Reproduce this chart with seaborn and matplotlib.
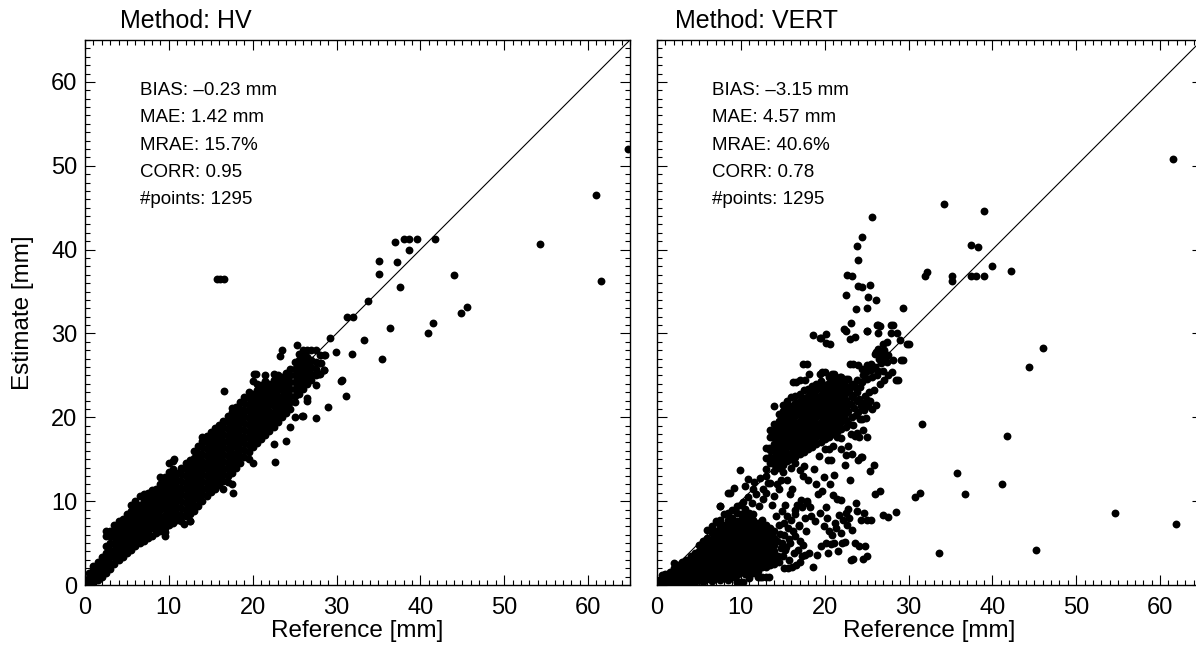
import matplotlib
matplotlib.use("Agg")
import matplotlib.pyplot as plt
from matplotlib.ticker import MultipleLocator
import pandas as pd
import seaborn as sns

# ---- data (mm) ----
# dense core of the HV cloud: reference value -> estimates seen at that value
hv_cols = {
    0.2: [0.0, 0.6],
    0.5: [0.0, 0.8, 1.4],
    1.0: [0.2, 1.0, 1.8, 2.3],
    1.5: [0.6, 1.4, 2.2, 2.8],
    2.0: [1.0, 1.8, 2.6, 3.3],
    2.5: [1.4, 2.2, 3.0, 3.8, 4.6, 5.8, 6.4],
    3.0: [1.9, 2.6, 3.4, 4.2, 5.0, 5.8, 6.5],
    3.5: [2.5, 3.3, 4.1, 4.9, 5.7, 6.5, 7.2],
    4.0: [3.0, 3.6, 4.4, 5.2, 6.0, 6.8, 7.6],
    4.5: [3.3, 4.0, 4.8, 5.6, 6.4, 7.2, 7.9],
    5.0: [3.8, 4.4, 5.2, 6.0, 6.8, 7.6, 8.5],
    5.5: [4.2, 4.8, 5.6, 6.4, 7.2, 8.0, 8.8, 9.6],
    6.0: [4.6, 5.2, 6.0, 6.8, 7.6, 8.4, 9.2, 10.0],
    6.5: [5.0, 5.6, 6.4, 7.2, 8.0, 8.8, 9.6, 10.6],
    7.0: [5.3, 6.0, 6.8, 7.6, 8.4, 9.2, 10.0, 10.8],
    7.5: [5.6, 6.4, 7.2, 8.0, 8.8, 9.6, 10.4, 11.0],
    8.0: [5.9, 6.8, 7.6, 8.4, 9.2, 10.0, 10.8, 11.3],
    8.5: [6.2, 7.0, 7.8, 8.6, 9.4, 10.2, 11.0, 11.5],
    9.0: [6.5, 7.3, 8.1, 8.9, 9.7, 10.5, 11.3, 12.1, 12.9],
    9.5: [6.8, 7.6, 8.4, 9.2, 10.0, 10.8, 11.6, 12.4, 12.9],
    10.0: [7.1, 7.9, 8.7, 9.5, 10.3, 11.1, 11.9, 12.7, 13.5, 14.5],
    10.5: [7.4, 8.2, 9.0, 9.8, 10.6, 11.4, 12.2, 13.0, 13.8, 14.8],
    11.0: [7.7, 8.5, 9.3, 10.1, 10.9, 11.7, 12.5, 13.3],
    11.5: [7.6, 8.4, 9.2, 10.0, 10.8, 11.6, 12.4, 13.2, 14.0],
    12.0: [8.2, 9.0, 9.8, 10.6, 11.4, 12.2, 13.0, 13.8, 14.6],
    12.5: [7.6, 8.5, 9.3, 10.1, 10.9, 11.7, 12.5, 13.3, 14.1, 14.9],
    13.0: [8.8, 9.6, 10.4, 11.2, 12.0, 12.8, 13.6, 14.4, 15.2, 16.0],
    13.5: [9.4, 10.2, 11.0, 11.8, 12.6, 13.4, 14.2, 15.0, 15.8, 16.6],
    14.0: [10.0, 10.8, 11.6, 12.4, 13.2, 14.0, 14.8, 15.6, 16.4, 17.2, 17.7],
    14.5: [10.6, 11.4, 12.2, 13.0, 13.8, 14.6, 15.4, 16.2, 17.0, 17.8],
    15.0: [11.1, 11.9, 12.7, 13.5, 14.3, 15.1, 15.9, 16.7, 17.5, 18.3],
    15.5: [11.5, 12.3, 13.1, 13.9, 14.7, 15.5, 16.3, 17.1, 17.9, 18.7],
    16.0: [11.9, 12.7, 13.5, 14.3, 15.1, 15.9, 16.7, 17.5, 18.3, 19.1],
    16.5: [11.4, 12.4, 13.2, 14.0, 14.8, 15.6, 16.4, 17.2, 18.0, 18.8, 19.6],
    17.0: [12.3, 13.0, 13.8, 14.6, 15.4, 16.2, 17.0, 17.8, 18.6, 19.4, 20.2],
    17.5: [12.1, 13.4, 14.2, 15.0, 15.8, 16.6, 17.4, 18.2, 19.0, 19.8, 20.6],
    18.0: [14.0, 14.8, 15.6, 16.4, 17.2, 18.0, 18.8, 19.6, 20.4, 21.2],
    18.5: [14.6, 15.4, 16.2, 17.0, 17.8, 18.6, 19.4, 20.2, 21.0, 21.8],
    19.0: [15.3, 16.1, 16.9, 17.7, 18.5, 19.3, 20.1, 20.9, 21.7, 22.4],
    19.5: [15.0, 15.9, 16.7, 17.5, 18.3, 19.1, 19.9, 20.7, 21.5, 22.3, 23.0],
    20.0: [14.6, 16.4, 17.2, 18.0, 18.8, 19.6, 20.4, 21.2, 22.0, 22.8, 24.3],
    20.5: [16.9, 17.7, 18.5, 19.3, 20.1, 20.9, 21.7, 22.5, 23.3, 24.0],
    21.0: [17.4, 18.2, 19.0, 19.8, 20.6, 21.4, 22.2, 23.0, 23.8],
    21.5: [17.9, 18.7, 19.5, 20.3, 21.1, 21.9, 22.7, 23.5, 24.3, 25.0],
    22.0: [18.4, 19.2, 20.0, 20.8, 21.6, 22.4, 23.2, 24.0],
    22.5: [16.8, 18.9, 19.7, 20.5, 21.3, 22.1, 22.9, 23.7, 24.5, 25.2],
    23.0: [19.4, 20.2, 21.0, 21.8, 22.6, 23.4, 24.2, 25.0],
    23.5: [20.0, 20.8, 21.6, 22.4, 23.2, 24.0, 24.8, 28.0],
    24.0: [17.2, 20.5, 21.3, 22.1, 22.9, 23.7, 24.5, 25.3],
    24.5: [18.9, 21.0, 21.8, 22.6, 23.4, 24.2, 25.0, 25.8],
    25.0: [20.0, 21.8, 22.6, 23.4, 24.2, 25.0, 25.8, 26.6],
    25.5: [22.8, 23.6, 24.4, 25.2, 26.0, 26.8, 27.6],
    26.0: [20.1, 23.4, 24.2, 25.0, 25.8, 26.6, 27.4, 28.0],
    26.5: [22.3, 24.0, 24.8, 25.6, 26.4, 27.2, 28.0],
    27.0: [24.4, 25.2, 26.0, 26.8, 28.0],
    27.5: [19.9, 23.8, 25.0, 25.8, 26.6, 28.0],
    28.0: [25.2, 26.5, 27.4],
    28.5: [25.6, 27.4],
}
# single HV points outside the core (reference, estimate)
hv_points = [
    (10.6, 15.0), (16.6, 23.1), (17.5, 21.1), (20.2, 25.2), (9.5, 5.8), (9.6, 6.3),
    (11.8, 7.3), (12.5, 7.6), (17.6, 11.0), (22.7, 14.7), (25.3, 28.6), (23.3, 27.3),
    (28.6, 27.4), (28.1, 26.5), (28.5, 25.6), (27.9, 25.2), (26.5, 21.9), (29.2, 29.5),
    (29.9, 27.8), (31.8, 27.5), (33.3, 29.2), (35.4, 27.0), (30.5, 24.3), (31.1, 22.5),
    (29.0, 21.2), (25.9, 20.1), (31.3, 32.0), (32.0, 32.0), (33.8, 33.9), (35.1, 37.1),
    (35.1, 38.6), (37.2, 38.5), (37.6, 35.5), (37.0, 40.9), (38.0, 41.3), (38.6, 41.3),
    (39.6, 41.3), (41.8, 41.3), (38.6, 40.0), (44.0, 37.0), (45.6, 33.2), (44.9, 32.5),
    (41.5, 31.3), (36.4, 30.6), (40.9, 30.0), (54.3, 40.7), (61.0, 46.5), (61.5, 36.2),
    (64.8, 52.0), (15.7, 36.45), (16.1, 36.45), (16.6, 36.45), (30.6, 24.4), (20.4, 25.2),
]

# VERT: dense lower group (small references, underestimated)
vert_low_cols = {
    0.2: [0.0, 0.5],
    0.6: [0.0, 0.7, 1.2],
    1.0: [0.0, 0.6, 1.3],
    1.5: [0.2, 0.9, 1.6],
    2.0: [0.0, 0.6, 1.3, 2.0, 2.6],
    2.5: [0.2, 0.9, 1.6, 2.4],
    3.0: [0.0, 0.6, 1.3, 2.0, 2.7],
    3.5: [0.3, 1.0, 1.7, 2.4, 3.0],
    4.0: [0.0, 0.7, 1.4, 2.1, 2.8, 3.5],
    4.5: [0.3, 1.0, 1.7, 2.4, 3.1, 3.8],
    5.0: [0.6, 1.3, 2.0, 2.7, 3.4, 4.1, 4.8],
    5.5: [0.4, 1.1, 1.8, 2.5, 3.2, 3.9, 4.6, 5.3],
    6.0: [0.7, 1.4, 2.1, 2.8, 3.5, 4.2, 4.9, 5.6, 6.6],
    6.5: [0.5, 1.2, 1.9, 2.6, 3.3, 4.0, 4.7, 5.4, 6.2, 7.0],
    7.0: [0.8, 1.5, 2.2, 2.9, 3.6, 4.3, 5.0, 5.7, 6.4, 7.6],
    7.5: [0.6, 1.3, 2.0, 2.7, 3.4, 4.1, 4.8, 5.5, 6.2, 7.0, 7.7, 9.4],
    8.0: [0.9, 1.6, 2.3, 3.0, 3.7, 4.4, 5.1, 5.8, 6.5, 7.2, 8.5],
    8.5: [0.6, 1.3, 2.0, 2.7, 3.4, 4.1, 4.8, 5.5, 6.2, 7.0, 7.8, 8.6, 11.0],
    9.0: [0.9, 1.6, 2.3, 3.0, 3.7, 4.4, 5.1, 5.8, 6.5, 7.2, 8.0, 9.0],
    9.5: [0.3, 1.2, 1.9, 2.6, 3.3, 4.0, 4.7, 5.4, 6.1, 6.8, 7.6, 8.6, 9.4],
    10.0: [0.3, 1.5, 2.2, 2.9, 3.6, 4.3, 5.0, 5.7, 6.4, 7.1, 7.8, 8.5, 9.6],
    10.5: [1.3, 2.0, 2.7, 3.4, 4.1, 4.8, 5.5, 6.2, 6.9, 7.6, 8.3, 9.1],
    11.0: [0.8, 1.6, 2.3, 3.0, 3.7, 4.4, 5.1, 5.8, 6.5, 7.2, 7.9, 8.6],
    11.5: [1.4, 2.1, 2.8, 3.5, 4.2, 4.9, 5.6, 6.3, 7.0, 7.7, 8.5],
    12.0: [1.0, 1.7, 2.4, 3.1, 3.8, 4.5, 5.2, 5.9, 6.6, 7.4],
    12.5: [1.0, 2.2, 2.9, 3.6, 4.3, 5.0, 5.7, 6.4, 7.1, 7.8],
    13.0: [0.9, 2.2, 2.9, 3.6, 4.3, 5.0, 5.7, 6.4, 7.2],
    13.5: [2.4, 3.1, 3.8, 4.5, 5.2, 6.0, 6.8],
    14.0: [2.5, 3.2, 4.0, 4.8, 5.6, 6.5],
}
# VERT: dense upper group (references 13-23 mm)
vert_up_cols = {
    13.0: [13.0, 13.8, 15.2, 16.3],
    13.5: [14.5, 15.3, 16.1, 17.7, 18.5],
    14.0: [13.6, 14.4, 15.2, 16.0, 16.8, 17.6, 18.4, 19.2, 21.3],
    14.5: [14.0, 14.8, 15.6, 16.4, 17.2, 18.0, 18.8, 19.6, 20.4],
    15.0: [13.5, 14.3, 15.1, 15.9, 16.7, 17.5, 18.3, 19.1, 19.9, 20.7, 21.5],
    15.5: [14.8, 15.6, 16.4, 17.2, 18.0, 18.8, 19.6, 20.4, 21.2, 22.0],
    16.0: [14.0, 15.0, 15.8, 16.6, 17.4, 18.2, 19.0, 19.8, 20.6, 21.4, 22.4],
    16.5: [14.6, 15.3, 16.1, 16.9, 17.7, 18.5, 19.3, 20.1, 20.9, 21.7, 22.6],
    17.0: [13.7, 15.6, 16.4, 17.2, 18.0, 18.8, 19.6, 20.4, 21.2, 22.0, 22.8],
    17.5: [14.2, 15.9, 16.7, 17.5, 18.3, 19.1, 19.9, 20.7, 21.5, 22.3, 23.2],
    18.0: [16.2, 17.0, 17.8, 18.6, 19.4, 20.2, 21.0, 21.8, 22.6, 23.4],
    18.5: [16.5, 17.3, 18.1, 18.9, 19.7, 20.5, 21.3, 22.1, 22.9, 23.7],
    19.0: [16.8, 17.6, 18.4, 19.2, 20.0, 20.8, 21.6, 22.4, 23.2, 24.0],
    19.5: [17.1, 17.9, 18.7, 19.5, 20.3, 21.1, 21.9, 22.7, 23.5, 24.3],
    20.0: [16.2, 17.4, 18.2, 19.0, 19.8, 20.6, 21.4, 22.2, 23.0, 23.8],
    20.5: [16.2, 17.7, 18.5, 19.3, 20.1, 20.9, 21.7, 22.5, 23.3, 24.1, 24.8],
    21.0: [16.6, 18.0, 18.8, 19.6, 20.4, 21.2, 22.0, 22.8, 23.6, 24.4],
    21.5: [17.7, 18.3, 19.1, 19.9, 20.7, 21.5, 22.3, 23.1, 23.9, 24.7],
    22.0: [16.2, 17.5, 18.6, 19.4, 20.2, 21.0, 21.8, 22.6, 23.4, 24.2],
    22.5: [18.9, 19.7, 20.5, 21.3, 22.1, 22.9, 23.7, 24.6],
}
# VERT: scattered points (reference, estimate)
vert_points = [
    # between the groups and to the lower right
    (13.7, 9.6), (13.2, 12.2), (14.2, 8.2), (13.9, 10.6), (14.3, 12.0), (14.6, 2.7),
    (14.4, 3.5), (14.8, 4.4), (14.3, 5.3), (14.7, 6.1), (14.5, 7.2), (14.9, 8.8),
    (14.6, 11.5), (15.2, 2.0), (15.0, 3.4), (15.3, 4.2), (14.9, 5.0), (15.2, 6.0),
    (15.1, 7.4), (15.3, 9.5), (14.8, 12.5), (15.6, 2.0), (15.7, 3.0), (15.4, 4.5),
    (15.8, 5.5), (15.6, 6.8), (15.5, 8.2), (15.9, 10.9), (15.5, 12.5), (16.1, 2.2),
    (16.3, 3.8), (15.9, 5.0), (16.2, 6.5), (16.0, 7.8), (16.4, 9.0), (16.1, 11.5),
    (16.6, 2.4), (16.8, 4.2), (16.5, 5.8), (16.9, 7.2), (16.4, 8.5), (16.7, 9.5),
    (17.0, 2.8), (17.3, 3.4), (17.1, 5.2), (16.9, 7.0), (17.2, 10.1), (17.4, 13.0),
    (17.7, 3.6), (17.4, 4.8), (17.8, 6.4), (17.6, 8.0), (17.3, 9.3), (17.9, 9.8),
    (18.1, 3.8), (18.3, 9.3), (17.9, 10.0), (18.0, 12.5), (18.6, 2.2), (18.4, 8.2),
    (18.7, 13.8), (19.1, 3.6), (18.9, 7.6), (19.2, 10.9), (19.0, 12.1), (19.3, 15.4),
    (19.6, 4.6), (19.4, 8.6), (19.7, 11.2), (20.1, 5.0), (19.9, 7.0), (20.2, 9.3),
    (19.9, 12.9), (20.4, 3.8), (20.7, 4.9), (20.5, 6.4), (20.3, 8.0), (20.6, 12.1),
    (20.4, 14.9), (21.1, 5.0), (20.9, 6.0), (21.2, 7.4), (21.0, 10.7), (21.1, 13.1),
    (20.8, 14.9), (21.6, 4.1), (21.4, 6.8), (21.7, 8.4), (21.5, 10.3), (22.1, 5.0),
    (21.9, 6.2), (22.2, 7.8), (22.0, 10.1), (22.4, 5.1), (22.7, 7.2), (22.5, 8.6),
    (22.8, 9.1), (22.4, 14.3), (22.6, 15.5), (22.8, 16.6), (23.1, 3.0), (22.9, 8.0),
    (23.0, 12.5), (23.2, 15.6), (23.4, 3.1), (23.6, 5.0), (23.3, 6.6), (23.7, 9.8),
    (24.1, 4.6), (23.9, 8.8), (24.0, 14.9), (24.3, 15.3), (24.6, 3.1), (24.3, 7.7),
    (24.7, 8.6), (24.5, 15.3), (25.1, 3.4), (24.8, 4.7), (25.0, 7.7), (25.5, 7.8),
    (25.4, 13.6), (26.0, 10.9), (25.9, 14.3), (26.6, 11.2), (27.0, 8.3), (27.6, 8.1),
    (28.5, 8.7), (12.3, 0.9), (13.4, 1.0), (9.6, 0.3), (10.2, 0.3),
    # above the lower group
    (10.3, 9.9), (10.8, 10.5), (11.3, 9.8), (11.8, 10.8), (12.2, 9.4), (12.7, 10.3),
    (12.3, 12.8), (11.6, 12.3), (13.0, 11.0), (10.9, 12.6), (9.2, 11.6), (8.7, 11.0),
    (7.5, 9.4), (9.9, 13.7), (10.5, 11.8), (11.4, 11.5), (12.6, 11.5), (13.5, 12.2),
    # right part of the upper group
    (23.1, 18.0), (22.9, 19.2), (23.2, 20.0), (22.8, 20.8), (23.1, 21.6), (23.3, 22.4),
    (22.9, 23.2), (23.2, 24.0), (23.6, 17.8), (23.4, 19.1), (23.7, 20.3), (23.5, 21.1),
    (23.8, 21.9), (23.4, 22.7), (23.6, 23.6), (23.8, 24.4), (24.1, 17.7), (23.9, 18.1),
    (24.2, 19.8), (24.0, 20.6), (24.3, 21.4), (24.1, 22.2), (23.9, 23.0), (24.2, 23.6),
    (24.6, 18.5), (24.4, 19.8), (24.7, 20.9), (24.5, 21.7), (24.8, 22.5), (24.4, 24.2),
    (24.6, 25.0), (25.1, 17.7), (24.9, 19.9), (25.2, 21.3), (25.0, 22.1), (25.3, 23.0),
    (25.1, 24.6), (24.9, 25.4), (25.6, 21.0), (25.4, 22.0), (25.7, 24.8), (25.5, 25.6),
    (26.1, 21.5), (25.9, 23.2), (26.2, 25.0), (26.0, 26.0), (26.6, 24.0), (26.4, 25.5),
    (26.7, 26.5), (26.5, 27.6), (27.1, 24.5), (26.9, 25.5), (27.2, 26.8), (27.6, 25.0),
    (27.4, 26.6),
    # top edge of the upper group
    (16.6, 24.2), (17.6, 24.5), (17.4, 26.4), (18.1, 25.2), (17.9, 26.4), (18.6, 29.8),
    (19.4, 25.2), (19.6, 29.4), (20.0, 25.4), (20.1, 29.9), (20.6, 28.8), (21.1, 25.2),
    (22.0, 24.8), (22.6, 30.3), (23.0, 26.4), (23.0, 29.3), (23.4, 26.4), (23.6, 29.6),
    (24.0, 26.2), (24.5, 25.8), (25.0, 26.2), (25.0, 30.3), (25.5, 26.4), (26.0, 27.6),
    (26.1, 27.8), (26.5, 27.0), (26.4, 28.2), (26.6, 30.9), (27.0, 27.4), (27.1, 28.0),
    (26.9, 28.8), (27.6, 27.4), (27.4, 29.0), (28.0, 25.4), (28.1, 26.8), (27.9, 30.0),
    (28.2, 31.0), (28.5, 24.5), (28.6, 30.0),
    # outliers
    (61.6, 50.8), (34.2, 45.5), (39.0, 44.6), (25.7, 43.9), (24.4, 41.5), (23.9, 40.4),
    (24.0, 38.8), (37.4, 40.6), (38.3, 40.3), (39.9, 38.0), (42.2, 37.4), (39.0, 36.8),
    (37.5, 36.8), (38.0, 36.8), (35.2, 36.8), (35.2, 36.2), (32.2, 37.3), (32.0, 36.8),
    (22.7, 37.0), (23.2, 36.8), (24.0, 35.7), (24.4, 35.5), (25.4, 35.8), (22.5, 34.6),
    (25.2, 34.3), (26.1, 34.0), (23.7, 32.9), (25.0, 33.0), (29.3, 33.0), (23.1, 31.2),
    (26.4, 31.0), (27.9, 31.0), (22.3, 30.5), (25.0, 30.3), (26.2, 31.0), (26.4, 30.0),
    (19.4, 29.4), (20.1, 28.9), (29.0, 29.2), (29.8, 28.8), (29.3, 26.8), (30.1, 28.7),
    (29.1, 26.8), (28.7, 24.4), (46.0, 28.3), (44.4, 26.0), (31.6, 19.2), (41.8, 17.8),
    (35.8, 13.3), (41.2, 12.0), (36.7, 10.9), (30.8, 10.5), (31.4, 11.0), (54.6, 8.6),
    (61.9, 7.3), (33.6, 3.8), (45.2, 4.2), (13.7, 17.7), (13.3, 16.3), (16.2, 24.2),
    (17.1, 24.5), (19.7, 25.4), (20.9, 25.2), (21.8, 24.8), (22.8, 24.6),
]

hv_stats = ["BIAS: \u20130.23 mm", "MAE: 1.42 mm", "MRAE: 15.7%", "CORR: 0.95", "#points: 1295"]
vert_stats = ["BIAS: \u20133.15 mm", "MAE: 4.57 mm", "MRAE: 40.6%", "CORR: 0.78", "#points: 1295"]


def to_frame(col_groups, points):
    xs, ys = [], []
    for cols in col_groups:
        for x, vals in cols.items():
            xs += [x] * len(vals)
            ys += vals
    xs += [p[0] for p in points]
    ys += [p[1] for p in points]
    return pd.DataFrame({"Reference": xs, "Estimate": ys})


hv = to_frame([hv_cols], hv_points)
vert = to_frame([vert_low_cols, vert_up_cols], vert_points)

sns.set_theme(style="ticks")
plt.rcParams["font.family"] = ["Liberation Sans", "DejaVu Sans"]

W, H = 1196, 649
fig = plt.figure(figsize=(W / 100, H / 100), dpi=100)
ax1 = fig.add_axes([85 / W, 64 / H, 545 / W, 545 / H])
ax2 = fig.add_axes([657 / W, 64 / H, 545 / W, 545 / H])

panels = [(ax1, hv, "Method: HV", 35, hv_stats), (ax2, vert, "Method: VERT", 18, vert_stats)]
for ax, df, title, title_dx, stats in panels:
    ax.plot([0, 65], [0, 65], color="black", lw=0.8, zorder=1)
    sns.scatterplot(data=df, x="Reference", y="Estimate", ax=ax, color="black",
                    s=32, linewidth=0, legend=False, zorder=2)
    ax.set_xlim(0, 65)
    ax.set_ylim(0, 65)
    ax.xaxis.set_major_locator(MultipleLocator(10))
    ax.xaxis.set_minor_locator(MultipleLocator(1))
    ax.yaxis.set_major_locator(MultipleLocator(10))
    ax.yaxis.set_minor_locator(MultipleLocator(1))
    ax.tick_params(which="both", direction="in", top=True, right=True,
                   color="black", width=0.8, labelsize=17, labelcolor="black")
    ax.tick_params(which="major", length=7.2)
    ax.tick_params(which="minor", length=3.6)
    ax.tick_params(axis="x", pad=8.6)
    ax.tick_params(axis="y", pad=5.5)
    for sp in ax.spines.values():
        sp.set_color("black")
        sp.set_linewidth(1.0)
    ax.set_xlabel("Reference [mm]", fontsize=17.5, color="black")
    ax.xaxis.set_label_coords(0.5, -0.0642)
    ax.text(title_dx / 545, 1 + 12 / 545, title, transform=ax.transAxes,
            fontsize=18, ha="left", va="baseline", color="black")
    for i, line in enumerate(stats):
        ax.text(55 / 545, (490 - 27.3 * i) / 545, line, transform=ax.transAxes,
                fontsize=13.5, ha="left", va="baseline", color="black")

ax1.set_ylabel("Estimate [mm]", fontsize=17.5, color="black")
ax1.yaxis.set_label_coords(-0.094, 0.5)
ax2.set_ylabel("")
ax2.tick_params(axis="y", labelleft=False)

fig.savefig("out.png", dpi=100)
